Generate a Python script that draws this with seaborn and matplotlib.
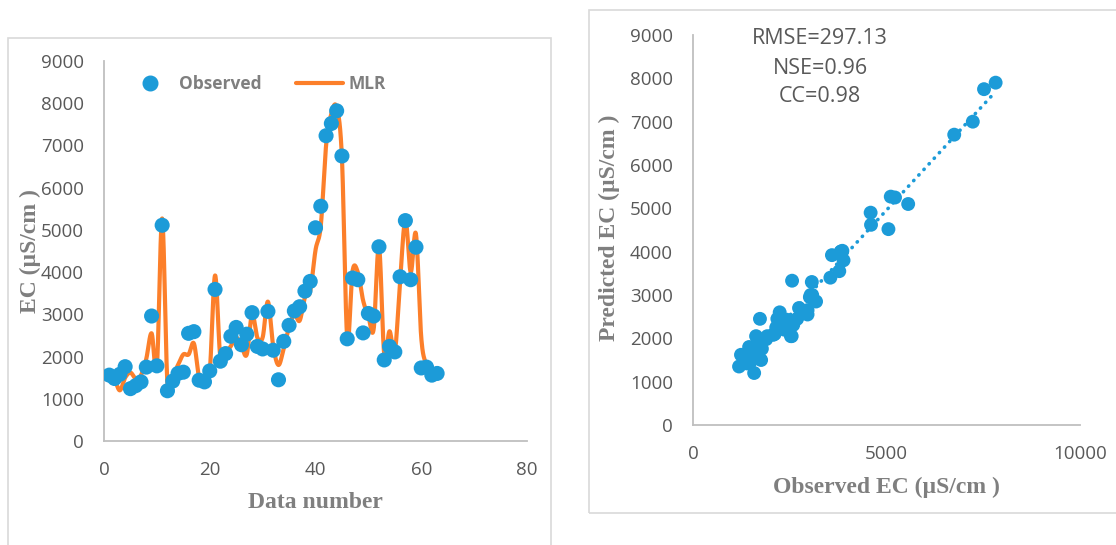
import numpy as np
import pandas as pd
import matplotlib
matplotlib.use("Agg")
import matplotlib.pyplot as plt
import seaborn as sns
from matplotlib.patches import Rectangle
from matplotlib.lines import Line2D

sns.set_theme(style="white")
plt.rcParams["font.family"] = ["Open Sans", "DejaVu Sans"]

# ---- data -------------------------------------------------------------
data_number = list(range(1, 64))

observed_ec = [1560, 1480, 1580, 1760, 1240, 1310, 1400, 1750, 2960, 1780,
               5110, 1190, 1420, 1600, 1630, 2550, 2590, 1440, 1400, 1660,
               3590, 1890, 2070, 2480, 2690, 2280, 2530, 3040, 2240, 2180,
               3070, 2150, 1450, 2360, 2740, 3080, 3180, 3550, 3780, 5050,
               5560, 7230, 7520, 7820, 6750, 2420, 3860, 3820, 2560, 3020,
               2960, 4600, 1920, 2240, 2110, 3890, 5220, 3820, 4590, 1730,
               1750, 1560, 1600]

mlr_ec = [1560, 1450, 1200, 1500, 1620, 1480, 1560, 1950, 2550, 1760,
          5270, 1350, 1550, 1800, 2050, 2050, 2310, 1500, 1420, 1650,
          3920, 1980, 2080, 2250, 2450, 2250, 2050, 3000, 2450, 2450,
          3300, 2250, 1800, 2200, 2700, 3000, 2850, 3400, 3550, 4520,
          5100, 7000, 7750, 7900, 6700, 2430, 4020, 4000, 3330, 2950,
          2650, 4620, 2050, 2600, 2100, 3800, 5250, 4000, 4900, 2450,
          1800, 1600, 1620]

series_labels = ["Observed", "MLR"]
stat_lines = ["RMSE=297.13", "NSE=0.96", "CC=0.98"]

left_xticks = [0, 20, 40, 60, 80]
right_xticks = [0, 5000, 10000]
ec_ticks = list(range(0, 9001, 1000))

# ---- styling ----------------------------------------------------------
BLUE = "#1C9BD8"
ORANGE = "#FC7F2A"
TICK_GRAY = "#595959"
LABEL_GRAY = "#7F7F7F"
SPINE_GRAY = "#BFBFBF"
FRAME_GRAY = "#D9D9D9"
W, H = 1116, 545


def smooth_curve(x, y, steps=24):
    """Cardinal (Catmull-Rom) spline through the points, like a smoothed line."""
    x = np.asarray(x, float)
    y = np.asarray(y, float)
    n = len(x)
    m = np.empty(n)
    m[1:-1] = (y[2:] - y[:-2]) / 2.0
    m[0] = y[1] - y[0]
    m[-1] = y[-1] - y[-2]
    xs, ys = [], []
    t = np.linspace(0, 1, steps, endpoint=False)
    h00 = 2 * t**3 - 3 * t**2 + 1
    h10 = t**3 - 2 * t**2 + t
    h01 = -2 * t**3 + 3 * t**2
    h11 = t**3 - t**2
    for i in range(n - 1):
        xs.append(x[i] + t * (x[i + 1] - x[i]))
        ys.append(h00 * y[i] + h10 * m[i] + h01 * y[i + 1] + h11 * m[i + 1])
    xs.append([x[-1]])
    ys.append([y[-1]])
    return np.concatenate(xs), np.concatenate(ys)


def style_axes(ax):
    sns.despine(ax=ax)
    for side in ("left", "bottom"):
        ax.spines[side].set_color(SPINE_GRAY)
        ax.spines[side].set_linewidth(1.3)
    ax.tick_params(length=0, pad=14.5, labelsize=13.5, labelcolor=TICK_GRAY)
    ax.grid(False)
    ax.set_facecolor("none")


fig = plt.figure(figsize=(W / 100, H / 100), dpi=100)

# chart frames
fig.patches.append(Rectangle((8 / W, -0.05), (551 - 8) / W, 0.05 + 1 - 38 / H,
                             transform=fig.transFigure, fill=False,
                             edgecolor=FRAME_GRAY, linewidth=1.2))
fig.patches.append(Rectangle((589 / W, 1 - 513 / H), 0.6, (513 - 10) / H,
                             transform=fig.transFigure, fill=False,
                             edgecolor=FRAME_GRAY, linewidth=1.2))

ax1 = fig.add_axes([104 / W, 1 - 441 / H, 423 / W, 380 / H])
ax2 = fig.add_axes([693 / W, 1 - 425 / H, 387 / W, 390 / H])

# ---- left: time series ------------------------------------------------
sx, sy = smooth_curve(data_number, mlr_ec)
line_df = pd.DataFrame({"n": sx, "ec": sy})
obs_df = pd.DataFrame({"n": data_number, "ec": observed_ec})

sns.lineplot(data=line_df, x="n", y="ec", ax=ax1, color=ORANGE, linewidth=3,
             sort=False, estimator=None, zorder=2)
sns.scatterplot(data=obs_df, x="n", y="ec", ax=ax1, color=BLUE, s=118,
                edgecolor="none", linewidth=0, zorder=3)

ax1.set_xlim(0, 80)
ax1.set_ylim(0, 9000)
ax1.set_xticks(left_xticks)
ax1.set_yticks(ec_ticks)
style_axes(ax1)

handles = [Line2D([], [], marker="o", linestyle="none", color=BLUE, markersize=10.5),
           Line2D([], [], color=ORANGE, linewidth=3)]
leg = ax1.legend(handles, series_labels, ncol=2, loc="center",
                 bbox_to_anchor=(0.36, 0.939), frameon=False,
                 prop={"weight": "bold", "size": 12.5}, labelcolor=LABEL_GRAY,
                 handlelength=2.7, handletextpad=0.3, columnspacing=2.0)

ax1.set_xlabel("Data number", fontfamily="Liberation Serif", fontweight="bold",
               fontsize=17, color=LABEL_GRAY)
ax1.set_ylabel("EC (µS/cm )", fontfamily="Liberation Serif", fontweight="bold",
               fontsize=17, color=LABEL_GRAY)
ax1.xaxis.set_label_coords(0.5, (441 - 503) / 380)
ax1.xaxis.label.set_va("center")
ax1.yaxis.set_label_coords((30 - 104) / 423, 0.5)
ax1.yaxis.label.set_va("center")

# ---- right: observed vs predicted -------------------------------------
sc_df = pd.DataFrame({"obs": observed_ec, "pred": mlr_ec})
sns.scatterplot(data=sc_df, x="obs", y="pred", ax=ax2, color=BLUE, s=100,
                edgecolor="none", linewidth=0, zorder=3)
sns.regplot(data=sc_df, x="obs", y="pred", ax=ax2, scatter=False, ci=None,
            truncate=True,
            line_kws=dict(color=BLUE, linewidth=2.6, linestyle=(0, (0.1, 2.0)),
                          dash_capstyle="round", zorder=4))

ax2.set_xlim(0, 10000)
ax2.set_ylim(0, 9000)
ax2.set_xticks(right_xticks)
ax2.set_yticks(ec_ticks)
style_axes(ax2)

for i, txt in enumerate(stat_lines):
    ax2.text((820 - 693) / 387, (425 - (39 + 29 * i)) / 390, txt,
             transform=ax2.transAxes, ha="center", va="center",
             fontsize=15.5, color=TICK_GRAY, clip_on=False)

ax2.set_xlabel("Observed EC (µS/cm )", fontfamily="Liberation Serif",
               fontweight="bold", fontsize=17, color=LABEL_GRAY)
ax2.set_ylabel("Predicted EC (µS/cm )", fontfamily="Liberation Serif",
               fontweight="bold", fontsize=17, color=LABEL_GRAY)
ax2.xaxis.set_label_coords(0.5, (425 - 487) / 390)
ax2.xaxis.label.set_va("center")
ax2.yaxis.set_label_coords((609 - 693) / 387, (425 - 228) / 390)
ax2.yaxis.label.set_va("center")

fig.savefig("out.png", dpi=100, facecolor="white")
